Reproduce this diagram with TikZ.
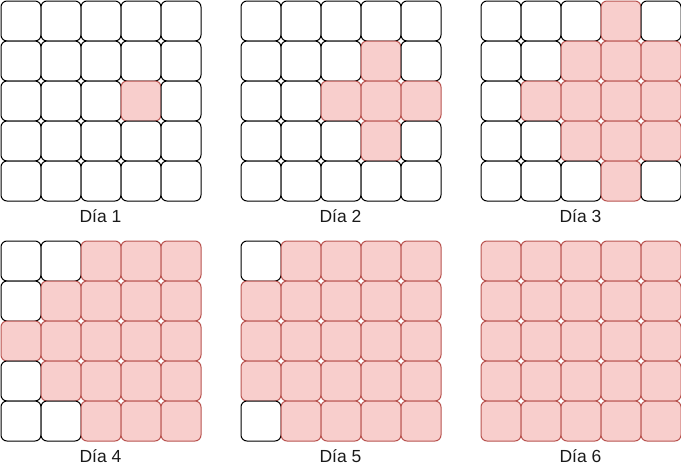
\documentclass[tikz,border=0pt]{standalone}
\usepackage{fontspec}
\setmainfont{Liberation Sans}
\definecolor{redfill}{HTML}{F8CECC}
\definecolor{redline}{HTML}{B85450}
\definecolor{txt}{HTML}{1A1A1A}
\begin{document}
\begin{tikzpicture}[x=1pt,y=-1pt,
  cell/.style={draw=black,fill=white,rounded corners=6pt,minimum size=40pt,inner sep=0pt,line width=1pt,anchor=north west},
  hot/.style={cell,draw=redline,fill=redfill},
  lbl/.style={font=\fontsize{17.5}{20}\selectfont,text=txt,inner sep=0pt}]
\useasboundingbox (0,0) rectangle (681,471);
\foreach \d in {0,...,5}{
  \pgfmathtruncatemacro{\gx}{mod(\d,3)*240}
  \pgfmathtruncatemacro{\gy}{int(\d/3)*240}
  \pgfmathtruncatemacro{\dn}{\d+1}
  \foreach \r in {0,...,4}{
    \foreach \c in {0,...,4}{
      \pgfmathtruncatemacro{\dist}{abs(\r-2)+abs(\c-3)}
      \ifnum\dist>\d
        \node[cell] (g\d-\r-\c) at (\gx+\c*40+0.5, \gy+\r*40+0.5) {};
      \else
        \node[hot] (g\d-\r-\c) at (\gx+\c*40+0.5, \gy+\r*40+0.5) {};
      \fi
    }
  }
  \node[lbl] (day\d) at (\gx+100.5, \gy+216.5) {Día \dn};
}
\end{tikzpicture}
\end{document}
